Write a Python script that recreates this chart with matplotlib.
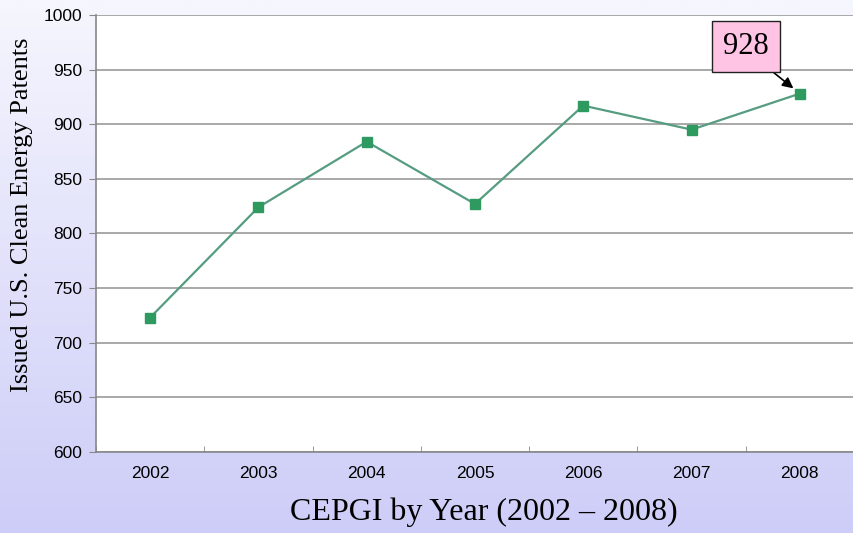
import matplotlib
matplotlib.use("Agg")
import matplotlib.pyplot as plt
import numpy as np
from matplotlib.colors import LinearSegmentedColormap

years = ["2002", "2003", "2004", "2005", "2006", "2007", "2008"]
patents = [723, 824, 884, 827, 917, 895, 928]
y_ticks = [600, 650, 700, 750, 800, 850, 900, 950, 1000]
annot_label = "928"

fig = plt.figure(figsize=(8.54, 5.33), dpi=100)

# background gradient
bg = fig.add_axes([0, 0, 1, 1], zorder=-10)
grad = np.linspace(0, 1, 256).reshape(-1, 1)
cmap = LinearSegmentedColormap.from_list("bg", ["#f6f6fe", "#cdcdf8"])
bg.imshow(grad, aspect="auto", cmap=cmap, extent=[0, 1, 0, 1], origin="upper")
bg.axis("off")

ax = fig.add_axes([0.1124, 0.152, 0.8876, 0.82])
ax.set_facecolor("white")
x = np.arange(len(years))
ax.plot(x, patents, color="#559c80", lw=1.6, marker="s", markersize=7,
        markerfacecolor="#2e9a60", markeredgecolor="#2e9a60", zorder=3)

ax.set_xlim(-0.5, len(years) - 0.5)
ax.set_ylim(600, 1000)
ax.set_yticks(y_ticks)
ax.set_yticklabels([str(v) for v in y_ticks], fontsize=12.5, family="Liberation Sans")
ax.set_xticks(x)
ax.set_xticklabels(years, fontsize=12.5, family="Liberation Sans")
ax.set_xticks(np.arange(-0.5, len(years), 1), minor=True)
ax.tick_params(axis="x", which="major", length=0, pad=10)
ax.tick_params(axis="x", which="minor", length=4, direction="in", color="#888888")
ax.tick_params(axis="y", length=5, color="#888888", pad=5)
ax.grid(axis="y", color="#999999", lw=1.2)
ax.set_axisbelow(True)
for s in ["top", "right"]:
    ax.spines[s].set_visible(False)
for s in ["left", "bottom"]:
    ax.spines[s].set_color("#888888")
    ax.spines[s].set_linewidth(1.2)

ax.annotate(annot_label, xy=(x[-1], patents[-1]), xytext=(5.5, 971),
            fontsize=22, family="Liberation Serif", ha="center", va="center",
            bbox=dict(boxstyle="square,pad=0.36", fc="#ffc4e4", ec="#222222", lw=1),
            arrowprops=dict(arrowstyle="-|>", color="black", lw=1.2, relpos=(0.8, 0),
                            shrinkA=0, shrinkB=6, mutation_scale=16))

fig.text(0.567, 0.039, "CEPGI by Year (2002 \u2013 2008)", fontsize=23,
         family="Liberation Serif", ha="center", va="center")
fig.text(0.026, 0.597, "Issued U.S. Clean Energy Patents", fontsize=19,
         family="Liberation Serif", ha="center", va="center", rotation=90)

fig.savefig("out.png", dpi=100)
